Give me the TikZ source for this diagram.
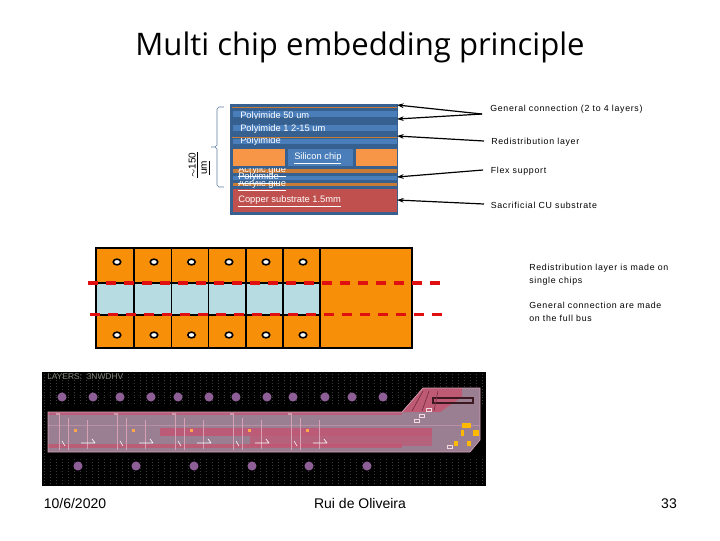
\documentclass[tikz,border=0pt]{standalone}
\usepackage{fontspec}
\setmainfont{Liberation Sans}
\newfontfamily\titlefont{Open Sans}
\newfontfamily\notefont[LetterSpace=8]{Liberation Sans}
\usetikzlibrary{arrows.meta,shapes.geometric}
\definecolor{navyband}{HTML}{36608F}
\definecolor{bluelayer}{HTML}{4A7EBB}
\definecolor{orangelayer}{HTML}{F79646}
\definecolor{brownline}{HTML}{C87A37}
\definecolor{redlayer}{HTML}{C0504D}
\definecolor{chiporange}{HTML}{F79008}
\definecolor{chipblue}{HTML}{B7DDE3}
\definecolor{dashred}{HTML}{E01010}
\definecolor{bracketblue}{HTML}{5F7F9F}
\definecolor{flexbody}{HTML}{9A7F92}
\definecolor{flexred}{HTML}{C8506E}
\definecolor{flexedge}{HTML}{D8A0B4}
\definecolor{dotpurple}{HTML}{8E5E96}
\definecolor{griddim}{HTML}{3A3A3A}
\definecolor{labeldim}{HTML}{8A8A80}
\tikzset{
  x=0.75pt,y=-0.75pt,
  layer/.style={fill=#1,draw=none},
  wtext/.style={font=\fontsize{7}{8}\selectfont,text=white,inner sep=0pt,anchor=west},
  note/.style={font=\notefont\fontsize{6.6}{9.7}\selectfont,text=black,inner sep=0pt,anchor=west,align=left},
  foot/.style={font=\fontsize{10.5}{12}\selectfont,inner sep=0pt,anchor=base},
  lead/.style={line width=0.9pt,-{Stealth[length=5pt,width=3.5pt]}},
  cell/.style={draw=black,line width=1.3pt},
  cut/.style={draw=dashred,line width=2.7pt,dash pattern=on 7.5pt off 6pt},
  via/.style={ellipse,fill=white,draw=black,line width=1.2pt,minimum width=5.6pt,minimum height=4.3pt,inner sep=0pt},
  pad/.style={circle,fill=dotpurple,draw=none,minimum size=6.8pt,inner sep=0pt},
  trace/.style={draw=#1,line width=0.35pt},
  umtext/.style={rotate=90,inner sep=0pt,font=\fontsize{7.5}{8}\selectfont},
}
\begin{document}
\begin{tikzpicture}
\useasboundingbox (0,0) rectangle (720,540);
\fill[white] (0,0) rectangle (720,540);
\node[inner sep=0pt,font=\titlefont\fontsize{23.3}{28}\selectfont] (title) at (360,47) {Multi chip embedding principle};

% layer stack
\fill[layer=navyband] (230,104) rectangle (398,215);
\fill[layer=brownline] (232,107) rectangle (397,108);
\fill[layer=bluelayer] (233,111) rectangle (397,117);
\fill[layer=bluelayer] (233,125) rectangle (397,131);
\fill[layer=brownline] (232,136.5) rectangle (397,137.5);
\fill[layer=bluelayer] (233,139) rectangle (397,144);
\fill[layer=orangelayer] (233,149) rectangle (285,166);
\fill[layer=orangelayer] (356,149) rectangle (397,166);
\fill[layer=bluelayer] (288,149) rectangle (353,166);
\fill[layer=brownline] (233,169) rectangle (397,173);
\fill[layer=bluelayer] (233,176) rectangle (397,180);
\fill[layer=brownline] (233,183) rectangle (397,186);
\fill[layer=redlayer] (233,189) rectangle (397,212);
\begin{scope}
\clip (230,111) rectangle (398,118);
\node[wtext] (p50) at (240,116) {Polyimide 50 um};
\end{scope}
\node[wtext] (p12) at (240,129) {Polyimide 1 2-15 um};
\begin{scope}
\clip (230,138) rectangle (398,147);
\node[wtext] (p3) at (240,141.5) {Polyimide};
\end{scope}
\node[wtext] (si) at (294,158) {\underline{Silicon chip}};
\begin{scope}
\clip (230,168.5) rectangle (398,176);
\node[wtext] (g1) at (238,171.5) {\underline{Acrylic glue}};
\end{scope}
\node[wtext] (p4) at (238,178.5) {\underline{Polyimide}};
\begin{scope}
\clip (230,181) rectangle (398,190);
\node[wtext] (g2) at (238,185) {\underline{Acrylic glue}};
\end{scope}
\node[wtext] (cu) at (238,201.5) {\underline{Copper substrate 1.5mm}};

% bracket
\coordinate (brtop) at (224,107);
\coordinate (brbot) at (224,187);
\coordinate (brtip) at (211,147);
\draw[bracketblue,line width=0.5pt] (brtop) -- (219,107) -- (217,109) -- (217,145) -- (215,147) -- (brtip)
  (215,147) -- (217,149) -- (217,185) -- (219,187) -- (brbot);
\node[umtext] (um1) at (193.5,165) {\underline{$\sim$150}};
\node[umtext] (um2) at (205.5,168) {\underline{um}};

% labels and leaders
\node[note] (lgen) at (490,109) {General connection (2 to 4 layers)};
\node[note] (lred) at (491,142) {Redistribution layer};
\node[note] (lflex) at (490.5,171) {Flex support};
\node[note] (lsac) at (490.5,205) {Sacrificial CU substrate};
\coordinate (gtail) at (482,114);
\coordinate (rtail) at (484,141);
\coordinate (ftail) at (483,170);
\coordinate (stail) at (484,204);
\coordinate (t1) at (397,105);
\coordinate (t2) at (397,119);
\coordinate (t3) at (397,136);
\coordinate (t4) at (397,177);
\coordinate (t5) at (397,200);
\draw[lead] (gtail) -- (t1);
\draw[lead] (gtail) -- (t2);
\draw[lead] (rtail) -- (t3);
\draw[lead] (ftail) -- (t4);
\draw[lead] (stail) -- (t5);

% chip row
\fill[chiporange] (96,248) rectangle (412,348);
\fill[chipblue] (96,283) rectangle (320,315);
\draw[cell] (96,248) rectangle (412,348);
\draw[cell] (134,248) -- (134,348) (171.5,248) -- (171.5,348) (208.5,248) -- (208.5,348)
  (246,248) -- (246,348) (283,248) -- (283,348) (320,248) -- (320,348);
\draw[cell] (96,283) -- (320,283) (96,315) -- (320,315);
\foreach \x/\n in {117/a,154/b,191.5/c,229/d,266/e,303/f}{
  \node[via] (top\n) at (\x,262) {};
  \node[via] (bot\n) at (\x,335) {};
}
\coordinate (c1a) at (88,283);
\coordinate (c1b) at (440,283);
\coordinate (c2a) at (90,314.5);
\coordinate (c2b) at (442,314.5);
\draw[cut] (c1a) -- (c1b);
\draw[cut] (c2a) -- (c2b);
\node[note] (n1) at (529,275) {Redistribution layer is made on\\single chips};
\node[note] (n2) at (529,311.5) {General connection are made\\on the full bus};

% layout picture
\fill[black] (42,372) rectangle (486,486);
\foreach \x in {44,50,...,484}{\draw[griddim,line width=0.2pt,dotted] (\x,374) -- (\x,484);}
\fill[black] (48,404) rectangle (486,458);
\node[inner sep=0pt,anchor=west,font=\fontsize{6.3}{7}\selectfont,text=labeldim] (layers) at (47,377) {LAYERS:\ \ 3NWDHV};
\foreach \x/\n in {62/a,93/b,120/c,151/d,178/e,209/f,236/g,267/h,293/i,325/j,352/k,383/l}{
  \node[pad] (pt\n) at (\x,397) {};
}
\foreach \x/\n in {78/a,136/b,194/c,252/d,309/e,367/f}{
  \node[pad] (pb\n) at (\x,466) {};
}
\fill[flexbody] (48,412) -- (402,412) -- (423,388) -- (480,388) -- (480,440) -- (470,452) -- (48,452) -- cycle;
\fill[flexred!80!flexbody] (402,412) -- (423,388) -- (462,388) -- (462,397) -- (440,412) -- cycle;
\fill[flexred!65!flexbody] (48,412) rectangle (402,415);
\fill[flexred,opacity=.75] (160,428) rectangle (432,436);
\fill[flexred,opacity=.6] (250,436) rectangle (432,446);
\fill[flexred,opacity=.7] (48,444) rectangle (402,448);
\draw[flexedge,line width=0.5pt] (48,412) -- (402,412) -- (423,388) -- (480,388) -- (480,440) -- (470,452) -- (48,452) -- cycle;
\draw[flexedge,opacity=.5,line width=0.5pt] (48,425) -- (480,425);
\foreach \o in {0,58,116,174,232}{
  \draw[trace=flexedge] (59+\o,415) -- (59+\o,450) (68+\o,418) -- (68+\o,450) (87+\o,420) -- (87+\o,449);
  \fill[orange!70!white] (74+\o,429) rectangle (77+\o,432);
  \draw[trace=white,line width=.5pt] (81+\o,443) -- (95+\o,443) (95+\o,443) -- (92+\o,439);
  \draw[trace=white,line width=.4pt] (62+\o,441) -- (65+\o,446) (56+\o,414) -- (60+\o,414);
}
\draw[black!70!flexred,line width=1.1pt] (433,398) rectangle (473,403);
\foreach \a/\b in {423/430,429/440,438/452}{\draw[black!40!flexred,line width=.5pt] (\a,391) -- (\b-18,411);}
\fill[orange!55!yellow] (462,423) rectangle (471,428);
\fill[orange!55!yellow] (461,430) rectangle (464,436);
\fill[orange!55!yellow] (473,430) rectangle (479,436);
\fill[orange!55!yellow] (454,441) rectangle (458,446);
\fill[orange!55!yellow] (467,441) rectangle (471,446);
\draw[white!80!flexred,line width=.4pt] (426,408) rectangle (431,411) (419,414) rectangle (424,417);
\draw[white!80!flexred,line width=.4pt] (414,419) rectangle (419,422) (447,445) rectangle (452,448);

% footer
\node[foot] (date) at (75,508) {10/6/2020};
\node[foot] (auth) at (360,508) {Rui de Oliveira};
\node[foot] (page) at (669,508) {33};
\end{tikzpicture}
\end{document}
